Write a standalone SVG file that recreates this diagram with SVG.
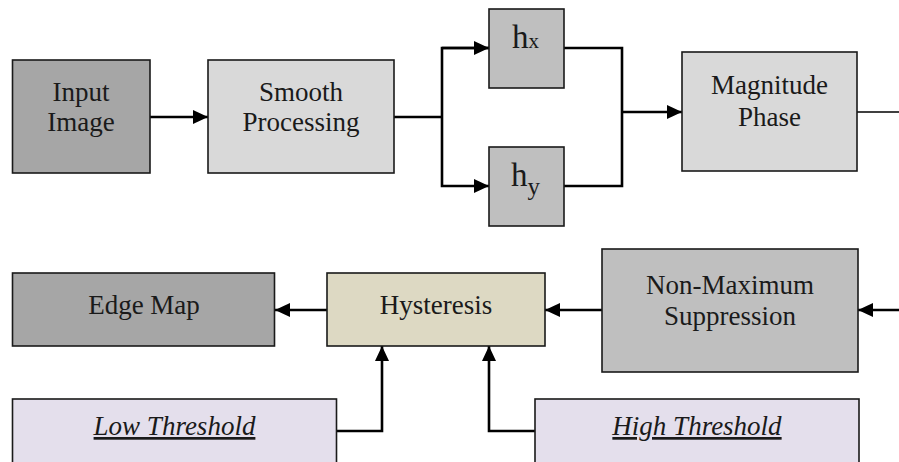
<svg xmlns="http://www.w3.org/2000/svg" width="899" height="462" viewBox="0 0 899 462">
<style>
.box{stroke:#1a1a1a;stroke-width:1.6}
.t{font-family:"Liberation Serif","DejaVu Serif",serif;font-size:27px;fill:#1a1a1a;text-anchor:middle}
.it{font-style:italic;text-decoration:underline}
.c{fill:none;stroke:#000;stroke-width:2.6}
.thin{fill:none;stroke:#000;stroke-width:1.5}
</style>
<defs>
<marker id="ah" viewBox="0 0 15 14" refX="15" refY="7" markerWidth="15" markerHeight="14" markerUnits="userSpaceOnUse" orient="auto">
<path d="M0,0 L15,7 L0,14 Z" fill="#000"/>
</marker>
</defs>
<rect width="899" height="462" fill="#fff"/>
<g id="connectors">
<line class="c" x1="150" y1="117" x2="208" y2="117" marker-end="url(#ah)"/>
<polyline class="c" points="394,117 442,117"/>
<polyline class="c" points="489,48 442,48 442,186 489,186" marker-end="url(#ah)"/>
<line class="c" x1="442" y1="48" x2="489" y2="48" marker-end="url(#ah)"/>
<polyline class="c" points="564,48 622,48 622,186 564,186"/>
<line class="c" x1="622" y1="112" x2="682" y2="112" marker-end="url(#ah)"/>
<line class="thin" x1="857" y1="112" x2="899" y2="112"/>
<line class="c" x1="899" y1="310" x2="858" y2="310" marker-end="url(#ah)"/>
<line class="c" x1="602" y1="310" x2="545" y2="310" marker-end="url(#ah)"/>
<line class="c" x1="327" y1="310" x2="275" y2="310" marker-end="url(#ah)"/>
<polyline class="c" points="337,431 382,431 382,346" marker-end="url(#ah)"/>
<polyline class="c" points="535,431 489,431 489,346" marker-end="url(#ah)"/>
</g>
<g id="input-image">
<rect class="box" x="12.5" y="60" width="137.5" height="113" fill="#a6a6a6"/>
<text class="t" x="81" y="101">Input</text>
<text class="t" x="81" y="131">Image</text>
</g>
<g id="smooth-processing">
<rect class="box" x="208" y="60" width="186" height="113" fill="#d9d9d9"/>
<text class="t" x="301" y="101">Smooth</text>
<text class="t" x="301" y="131">Processing</text>
</g>
<g id="hx">
<rect class="box" x="489" y="9" width="75" height="79" fill="#bfbfbf"/>
<text class="t" x="525.5" y="48" style="font-size:33px">h<tspan style="font-size:21px">x</tspan></text>
</g>
<g id="hy">
<rect class="box" x="489" y="147" width="75" height="79" fill="#bfbfbf"/>
<text class="t" x="525.5" y="186" style="font-size:33px">h<tspan dy="9" style="font-size:25px">y</tspan></text>
</g>
<g id="magnitude-phase">
<rect class="box" x="682" y="52" width="175" height="119" fill="#d9d9d9"/>
<text class="t" x="769.5" y="94">Magnitude</text>
<text class="t" x="769.5" y="126">Phase</text>
</g>
<g id="non-maximum-suppression">
<rect class="box" x="602" y="249" width="256" height="123" fill="#bfbfbf"/>
<text class="t" x="730" y="294">Non-Maximum</text>
<text class="t" x="730" y="325">Suppression</text>
</g>
<g id="hysteresis">
<rect class="box" x="327" y="273" width="218" height="73" fill="#ddd9c3"/>
<text class="t" x="436" y="314">Hysteresis</text>
</g>
<g id="edge-map">
<rect class="box" x="12.5" y="273" width="262" height="73" fill="#a6a6a6"/>
<text class="t" x="144" y="314">Edge Map</text>
</g>
<g id="low-threshold">
<rect class="box" x="12.5" y="399" width="324" height="75" fill="#e4dfec"/>
<text class="t it" x="174.5" y="435">Low Threshold</text>
</g>
<g id="high-threshold">
<rect class="box" x="535" y="399" width="324" height="75" fill="#e4dfec"/>
<text class="t it" x="697" y="435">High Threshold</text>
</g>
</svg>
